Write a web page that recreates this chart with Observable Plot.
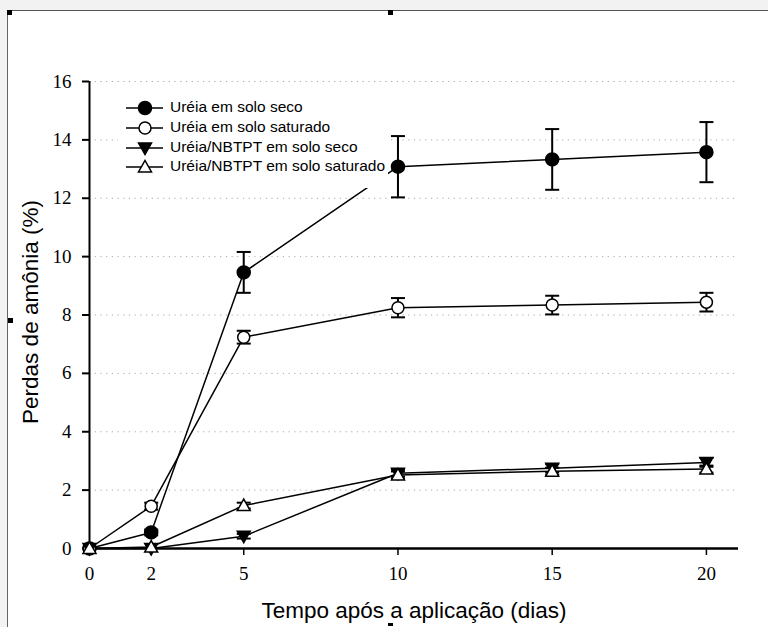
<!DOCTYPE html>
<html><head><meta charset="utf-8">
<script src="https://cdn.jsdelivr.net/npm/d3@7"></script>
<script src="https://cdn.jsdelivr.net/npm/@observablehq/plot@0.6"></script>
<style>
html,body{margin:0;padding:0;background:#f2f2f2;width:768px;height:627px;overflow:hidden;}
#frame{position:absolute;left:7px;top:10px;width:761px;height:617px;background:#fff;border-left:1.5px solid #666;border-top:1.5px solid #555;box-sizing:border-box;}
#chart{position:absolute;left:0;top:0;}
#legend{position:absolute;left:118px;top:94px;width:270px;height:94px;background:#fff;font-family:"Liberation Sans",Arial,sans-serif;font-size:15.5px;color:#000;}
.row{position:absolute;left:0;height:20px;width:270px;}
.row svg{position:absolute;left:6px;top:2px;}
.row span{position:absolute;left:52px;top:0px;white-space:nowrap;}
.handle{position:absolute;width:5px;height:5px;background:#000;}
</style></head>
<body>
<div id="frame"></div>
<div id="chart"></div>
<div id="legend"></div>
<div class="handle" style="left:7px;top:10px"></div>
<div class="handle" style="left:388px;top:10px"></div>
<div class="handle" style="left:8px;top:318px"></div>
<div class="handle" style="left:388px;top:623px;height:3px"></div>
<script>
const dias = [0, 2, 5, 10, 15, 20];
const seriesNames = ["Uréia em solo seco", "Uréia em solo saturado", "Uréia/NBTPT em solo seco", "Uréia/NBTPT em solo saturado"];
const ureiaSeco = [0, 0.55, 9.46, 13.08, 13.33, 13.58];
const ureiaSecoErr = [0, 0.1, 0.7, 1.05, 1.04, 1.03];
const ureiaSat = [0, 1.45, 7.24, 8.25, 8.34, 8.44];
const ureiaSatErr = [0, 0.12, 0.22, 0.33, 0.32, 0.32];
const nbptSeco = [0, 0, 0.42, 2.58, 2.75, 2.95];
const nbptSecoErr = [0, 0, 0.08, 0.12, 0.14, 0.15];
const nbptSat = [0, 0.05, 1.47, 2.52, 2.65, 2.72];
const nbptSatErr = [0, 0, 0.1, 0.12, 0.12, 0.12];
const yTicks = [0, 2, 4, 6, 8, 10, 12, 14, 16];
const xTicks = [0, 2, 5, 10, 15, 20];

const capSym = {draw(ctx) { ctx.moveTo(-7, 0); ctx.lineTo(7, 0); }};
const triDown = {draw(ctx) { ctx.moveTo(-6.5, -5); ctx.lineTo(6.5, -5); ctx.lineTo(0, 6.5); ctx.closePath(); }};
const triUp = {draw(ctx) { ctx.moveTo(-6.5, 5); ctx.lineTo(6.5, 5); ctx.lineTo(0, -6.5); ctx.closePath(); }};

const series = [
  {name: seriesNames[0], values: ureiaSeco, err: ureiaSecoErr, symbol: "circle", fill: "black", r: 6.5},
  {name: seriesNames[1], values: ureiaSat, err: ureiaSatErr, symbol: "circle", fill: "white", r: 6},
  {name: seriesNames[2], values: nbptSeco, err: nbptSecoErr, symbol: triDown, fill: "black", r: 6},
  {name: seriesNames[3], values: nbptSat, err: nbptSatErr, symbol: triUp, fill: "white", r: 6}
];
const rows = series.flatMap(s => dias.map((d, j) => ({serie: s.name, dia: d, v: s.values[j], e: s.err[j]})));
const errRows = rows.filter(d => d.e > 0);

const serif = "'Liberation Serif','Times New Roman',serif";
const sans = "'Liberation Sans',Arial,sans-serif";

const chart = Plot.plot({
  width: 768, height: 627,
  marginLeft: 89, marginRight: 30, marginTop: 81, marginBottom: 79,
  style: {background: "transparent", overflow: "visible", color: "black"},
  x: {domain: [0, 21.04]},
  y: {domain: [0, 16]},
  marks: [
    Plot.gridY(yTicks.filter(t => t > 0), {stroke: "#a8a8a8", strokeOpacity: 1, strokeDasharray: "1.2,4.5", strokeWidth: 1}),
    Plot.ruleX([0], {strokeWidth: 2}),
    Plot.ruleY([0], {strokeWidth: 2.5}),
    Plot.axisY(yTicks, {tickSize: 7, tickPadding: 11, fontFamily: serif, fontSize: 19, strokeWidth: 2, label: null}),
    Plot.axisX(xTicks, {tickSize: 7, tickPadding: 11, fontFamily: serif, fontSize: 19, strokeWidth: 1.5, label: null}),
    Plot.line(rows, {x: "dia", y: "v", z: "serie", stroke: "black", strokeWidth: 1.5}),
    Plot.ruleX(errRows, {x: "dia", y1: d => d.v - d.e, y2: d => d.v + d.e, stroke: "black", strokeWidth: 2}),
    Plot.dot(errRows, {x: "dia", y: d => d.v + d.e, symbol: capSym, stroke: "black", strokeWidth: 2, r: 7}),
    Plot.dot(errRows, {x: "dia", y: d => d.v - d.e, symbol: capSym, stroke: "black", strokeWidth: 2, r: 7}),
    ...series.map(s => Plot.dot(rows.filter(d => d.serie === s.name), {
      x: "dia", y: "v", symbol: s.symbol, r: s.r, fill: s.fill, stroke: "black", strokeWidth: 1.5
    })),
    Plot.text(["Perdas de amônia (%)"], {frameAnchor: "left", textAnchor: "middle", lineAnchor: "middle", rotate: -90, dx: -59, dy: -3, fontFamily: sans, fontSize: 22.5, fill: "black"}),
    Plot.text(["Tempo após a aplicação (dias)"], {frameAnchor: "bottom", textAnchor: "middle", lineAnchor: "bottom", dy: 69, fontFamily: sans, fontSize: 22.5, fill: "black"})
  ]
});
document.getElementById("chart").appendChild(chart);

// legend
const legend = document.getElementById("legend");
const rowTops = [4, 24, 44, 63];
series.forEach((s, i) => {
  const row = document.createElement("div");
  row.className = "row";
  row.style.top = rowTops[i] + "px";
  const svg = d3.create("svg").attr("width", 40).attr("height", 16);
  svg.append("line").attr("x1", 2).attr("x2", 39).attr("y1", 8).attr("y2", 8).attr("stroke", "black").attr("stroke-width", 1.5);
  const sym = typeof s.symbol === "string" ? d3.symbolCircle : s.symbol;
  const size = Math.PI * s.r * s.r;
  svg.append("path").attr("transform", "translate(21,8)")
    .attr("d", d3.symbol(sym, size)())
    .attr("fill", s.fill).attr("stroke", "black").attr("stroke-width", 1.5);
  row.appendChild(svg.node());
  const span = document.createElement("span");
  span.textContent = s.name;
  row.appendChild(span);
  legend.appendChild(row);
});
</script>
</body></html>
